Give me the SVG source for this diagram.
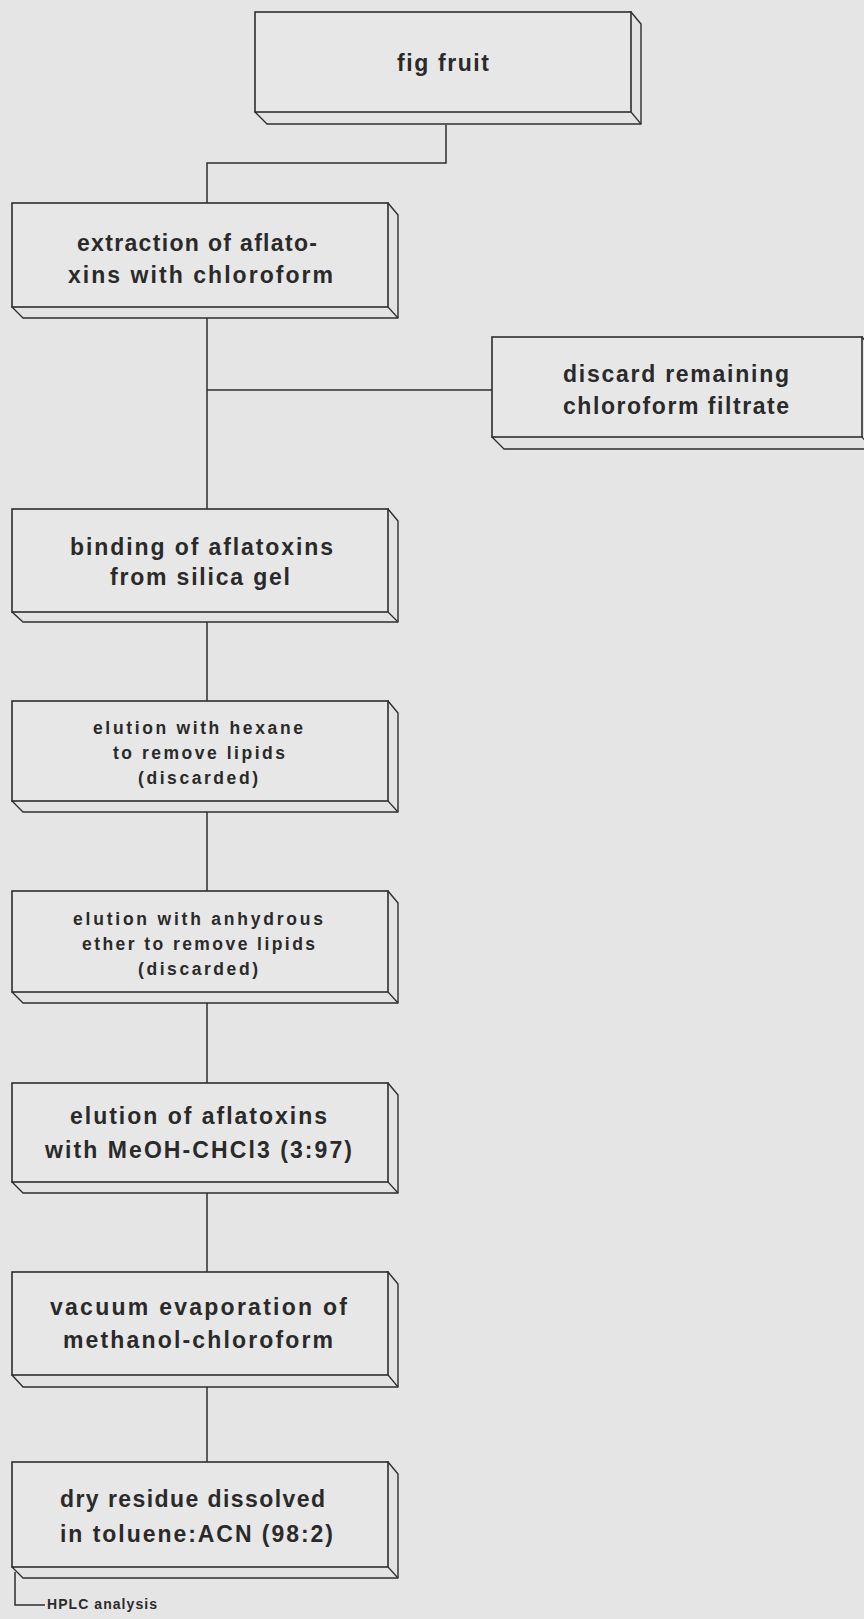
<svg xmlns="http://www.w3.org/2000/svg" width="864" height="1619" viewBox="0 0 864 1619">
<style>
.bg{fill:#e5e5e5}
.front{fill:#e7e7e7;stroke:#2e2e2e;stroke-width:1.6}
.side{fill:#e3e3e3;stroke:#2e2e2e;stroke-width:1.4;stroke-linejoin:round}
.edge{fill:none;stroke:#2e2e2e;stroke-width:1.2}
.conn{fill:none;stroke:#2e2e2e;stroke-width:1.5}
.t{font-family:"Liberation Sans",Arial,sans-serif;font-size:23px;font-weight:bold;fill:#2a2a2a}
.s{font-family:"Liberation Sans",Arial,sans-serif;font-size:17.5px;font-weight:bold;fill:#2a2a2a}
.h{font-family:"Liberation Sans",Arial,sans-serif;font-size:14px;font-weight:bold;fill:#2a2a2a}
</style>
<rect class="bg" x="0" y="0" width="864" height="1619"/>

<g id="connectors">
<path class="conn" d="M446,125 V163 H207 V203"/>
<path class="conn" d="M207,318 V509"/>
<path class="conn" d="M207,390 H492"/>
<path class="conn" d="M207,622 V701"/>
<path class="conn" d="M207,812 V891"/>
<path class="conn" d="M207,1003 V1083"/>
<path class="conn" d="M207,1193 V1272"/>
<path class="conn" d="M207,1387 V1462"/>
<path class="conn" d="M15,1572 V1605 H45"/>
</g>

<g id="n-fig">
<path class="side" d="M631,12 L641,24 L641,124 L267,124 L255,112 Z"/>
<rect class="front" x="255" y="12" width="376" height="100"/>
<line class="edge" x1="631" y1="112" x2="641" y2="124"/>
<text class="t" x="397" y="71" textLength="92" lengthAdjust="spacing">fig fruit</text>
</g>

<g id="n-extraction">
<path class="side" d="M388,203 L398,215 L398,318 L23,318 L12,307 Z"/>
<rect class="front" x="12" y="203" width="376" height="104"/>
<line class="edge" x1="388" y1="307" x2="398" y2="318"/>
<text class="t" x="77" y="251" textLength="240" lengthAdjust="spacing">extraction of aflato-</text>
<text class="t" x="68" y="283" textLength="265" lengthAdjust="spacing">xins with chloroform</text>
</g>

<g id="n-discard">
<path class="side" d="M862,337 L872,349 L872,449 L504,449 L492,437 Z"/>
<rect class="front" x="492" y="337" width="370" height="100"/>
<line class="edge" x1="862" y1="437" x2="872" y2="449"/>
<text class="t" x="563" y="382" textLength="226" lengthAdjust="spacing">discard remaining</text>
<text class="t" x="563" y="414" textLength="226" lengthAdjust="spacing">chloroform filtrate</text>
</g>

<g id="n-binding">
<path class="side" d="M388,509 L398,521 L398,622 L23,622 L12,612 Z"/>
<rect class="front" x="12" y="509" width="376" height="103"/>
<line class="edge" x1="388" y1="612" x2="398" y2="622"/>
<text class="t" x="70" y="555" textLength="263" lengthAdjust="spacing">binding of aflatoxins</text>
<text class="t" x="110" y="585" textLength="180" lengthAdjust="spacing">from silica gel</text>
</g>

<g id="n-hexane">
<path class="side" d="M388,701 L398,713 L398,812 L23,812 L12,801 Z"/>
<rect class="front" x="12" y="701" width="376" height="100"/>
<line class="edge" x1="388" y1="801" x2="398" y2="812"/>
<text class="s" x="93" y="734" textLength="210" lengthAdjust="spacing">elution with hexane</text>
<text class="s" x="113" y="759" textLength="172" lengthAdjust="spacing">to remove lipids</text>
<text class="s" x="138" y="784" textLength="120" lengthAdjust="spacing">(discarded)</text>
</g>

<g id="n-ether">
<path class="side" d="M388,891 L398,903 L398,1003 L23,1003 L12,992 Z"/>
<rect class="front" x="12" y="891" width="376" height="101"/>
<line class="edge" x1="388" y1="992" x2="398" y2="1003"/>
<text class="s" x="73" y="925" textLength="250" lengthAdjust="spacing">elution with anhydrous</text>
<text class="s" x="82" y="950" textLength="233" lengthAdjust="spacing">ether to remove lipids</text>
<text class="s" x="138" y="975" textLength="120" lengthAdjust="spacing">(discarded)</text>
</g>

<g id="n-meoh">
<path class="side" d="M388,1083 L398,1095 L398,1193 L23,1193 L12,1182 Z"/>
<rect class="front" x="12" y="1083" width="376" height="99"/>
<line class="edge" x1="388" y1="1182" x2="398" y2="1193"/>
<text class="t" x="70" y="1124" textLength="257" lengthAdjust="spacing">elution of aflatoxins</text>
<text class="t" x="45" y="1158" textLength="307" lengthAdjust="spacing">with MeOH-CHCl3 (3:97)</text>
</g>

<g id="n-vacuum">
<path class="side" d="M388,1272 L398,1284 L398,1387 L23,1387 L12,1375 Z"/>
<rect class="front" x="12" y="1272" width="376" height="103"/>
<line class="edge" x1="388" y1="1375" x2="398" y2="1387"/>
<text class="t" x="50" y="1315" textLength="297" lengthAdjust="spacing">vacuum evaporation of</text>
<text class="t" x="63" y="1348" textLength="270" lengthAdjust="spacing">methanol-chloroform</text>
</g>

<g id="n-dry">
<path class="side" d="M388,1462 L398,1474 L398,1578 L23,1578 L12,1567 Z"/>
<rect class="front" x="12" y="1462" width="376" height="105"/>
<line class="edge" x1="388" y1="1567" x2="398" y2="1578"/>
<text class="t" x="60" y="1507" textLength="265" lengthAdjust="spacing">dry residue dissolved</text>
<text class="t" x="60" y="1542" textLength="273" lengthAdjust="spacing">in toluene:ACN (98:2)</text>
</g>

<g id="n-hplc">
<text class="h" x="47" y="1609" textLength="110" lengthAdjust="spacing">HPLC analysis</text>
</g>
</svg>
